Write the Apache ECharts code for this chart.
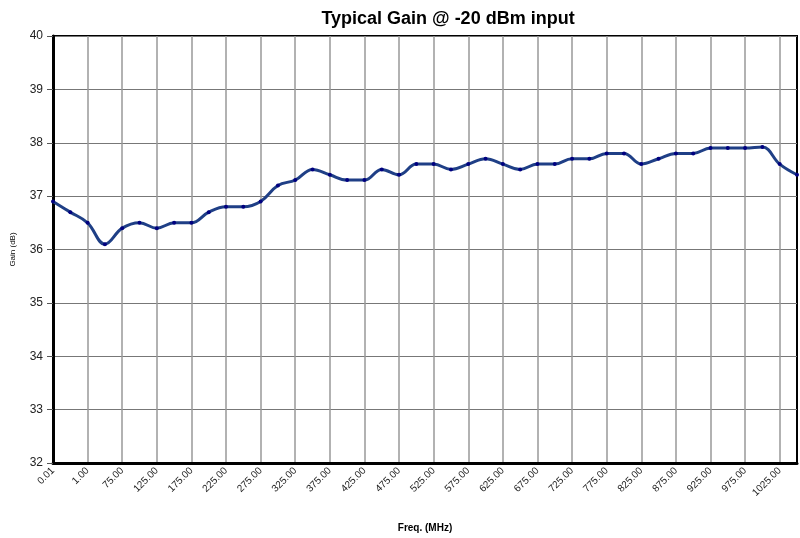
<!DOCTYPE html>
<html>
<head>
<meta charset="utf-8">
<script src="https://cdn.jsdelivr.net/npm/echarts@6/dist/echarts.min.js"></script>
<style>
html,body{margin:0;padding:0;background:#fff;}
#chart{width:800px;height:538px;}
</style>
</head>
<body>
<div id="chart"></div>
<script>
const categories = ['0.01','0.50','1.00','50.00','75.00','100.00','125.00','150.00','175.00','200.00','225.00','250.00','275.00','300.00','325.00','350.00','375.00','400.00','425.00','450.00','475.00','500.00','525.00','550.00','575.00','600.00','625.00','650.00','675.00','700.00','725.00','750.00','775.00','800.00','825.00','850.00','875.00','900.00','925.00','950.00','975.00','1000.00','1025.00','1050.00'];
const gainValues = [36.9,36.7,36.5,36.1,36.4,36.5,36.4,36.5,36.5,36.7,36.8,36.8,36.9,37.2,37.3,37.5,37.4,37.3,37.3,37.5,37.4,37.6,37.6,37.5,37.6,37.7,37.6,37.5,37.6,37.6,37.7,37.7,37.8,37.8,37.6,37.7,37.8,37.8,37.9,37.9,37.9,37.92,37.6,37.4];
const yTicks = {min:32, max:40, interval:1};
const titleText = 'Typical Gain @ -20 dBm input';
const xName = 'Freq. (MHz)';
const yName = 'Gain (dB)';

const chart = echarts.init(document.getElementById('chart'), null, {renderer:'canvas'});
chart.setOption({
  animation:false,
  backgroundColor:'#fff',
  title:{text:titleText, left:443, top:5, textAlign:'center',
    textStyle:{fontFamily:'Liberation Sans, Arial', fontWeight:'bold', fontSize:18, color:'#000'}},
  grid:{left:53, right:3, top:36, bottom:75, show:true, borderColor:'#000', borderWidth:2, backgroundColor:'transparent'},
  xAxis:{
    type:'category', data:categories, boundaryGap:false,
    name:xName, nameLocation:'middle', nameGap:60,
    nameTextStyle:{fontFamily:'Liberation Sans, Arial', fontWeight:'bold', fontSize:10, color:'#000'},
    axisLine:{lineStyle:{color:'#000', width:3}},
    axisTick:{show:false},
    axisLabel:{interval:1, rotate:45, fontFamily:'Liberation Sans, Arial', fontSize:10, color:'#222', margin:6},
    splitLine:{show:true, interval:1, lineStyle:{color:'#999', width:1.5}}
  },
  yAxis:{
    type:'value', min:yTicks.min, max:yTicks.max, interval:yTicks.interval,
    name:yName, nameLocation:'middle', nameGap:36, nameRotate:90,
    nameTextStyle:{fontFamily:'Liberation Sans, Arial', fontSize:8, color:'#000'},
    axisLine:{show:true, lineStyle:{color:'#000', width:3}},
    axisTick:{show:true, length:6, inside:false, lineStyle:{color:'#555', width:1}},
    axisLabel:{fontFamily:'Liberation Sans, Arial', fontSize:12, color:'#222', margin:10},
    splitLine:{show:true, lineStyle:{color:'#777', width:1}}
  },
  series:[{
    type:'line', data:gainValues, smooth:0.4,
    symbol:'circle', symbolSize:4,
    itemStyle:{color:'#000080'},
    lineStyle:{color:'#1f3f86', width:3}
  }]
});
</script>
</body>
</html>
